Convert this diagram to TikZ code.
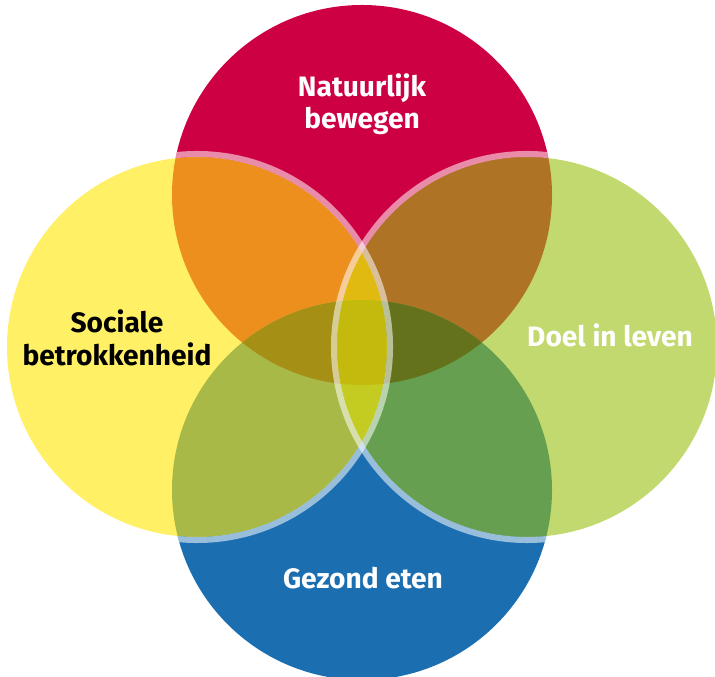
\documentclass[tikz,border=0pt]{standalone}
\usepackage{fontspec}
\setmainfont{Fira Sans}

\definecolor{rood}{RGB}{206,0,68}
\definecolor{blauw}{RGB}{27,111,177}
\definecolor{donker}{RGB}{22,0,47}
\definecolor{geel}{RGB}{255,231,6}
\definecolor{groen}{RGB}{153,192,15}

\tikzset{
  tekst/.style={font=\bfseries\fontsize{20}{23}\selectfont, align=center, inner sep=0pt},
  rand/.style={draw=white, draw opacity=0.55, line width=4.3pt}
}

\begin{document}
\begin{tikzpicture}
\useasboundingbox (0,0) rectangle (17.875,16.925);
\def\straal{4.75}
\coordinate (boven) at (9.05,12.05);
\coordinate (onder) at (9.05,4.675);
\coordinate (links) at (4.925,8.25);
\coordinate (rechts) at (13.175,8.25);

% rode en blauwe cirkel
\fill[rood] (boven) circle (\straal);
\fill[blauw] (onder) circle (\straal);
\begin{scope}
  \clip (boven) circle (\straal);
  \fill[donker] (onder) circle (\straal);
\end{scope}

% groene en gele cirkel, doorzichtig
\fill[groen, opacity=0.6] (rechts) circle (\straal);
\fill[geel, opacity=0.62] (links) circle (\straal);

% lichte randen binnen rood en blauw
\begin{scope}
  \clip (boven) circle (\straal) (onder) circle (\straal);
  \draw[rand] (links) circle (4.825);
  \draw[rand] (rechts) circle (4.825);
\end{scope}

\node[tekst, text=white] (natuur) at (9.05,14.325) {Natuurlijk\\bewegen};
\node[tekst, text=black] (sociaal) at (2.925,8.475) {Sociale\\betrokkenheid};
\node[tekst, text=white] (doel) at (15.25,8.55) {Doel in leven};
\node[tekst, text=white] (eten) at (9.075,2.475) {Gezond eten};
\end{tikzpicture}
\end{document}
